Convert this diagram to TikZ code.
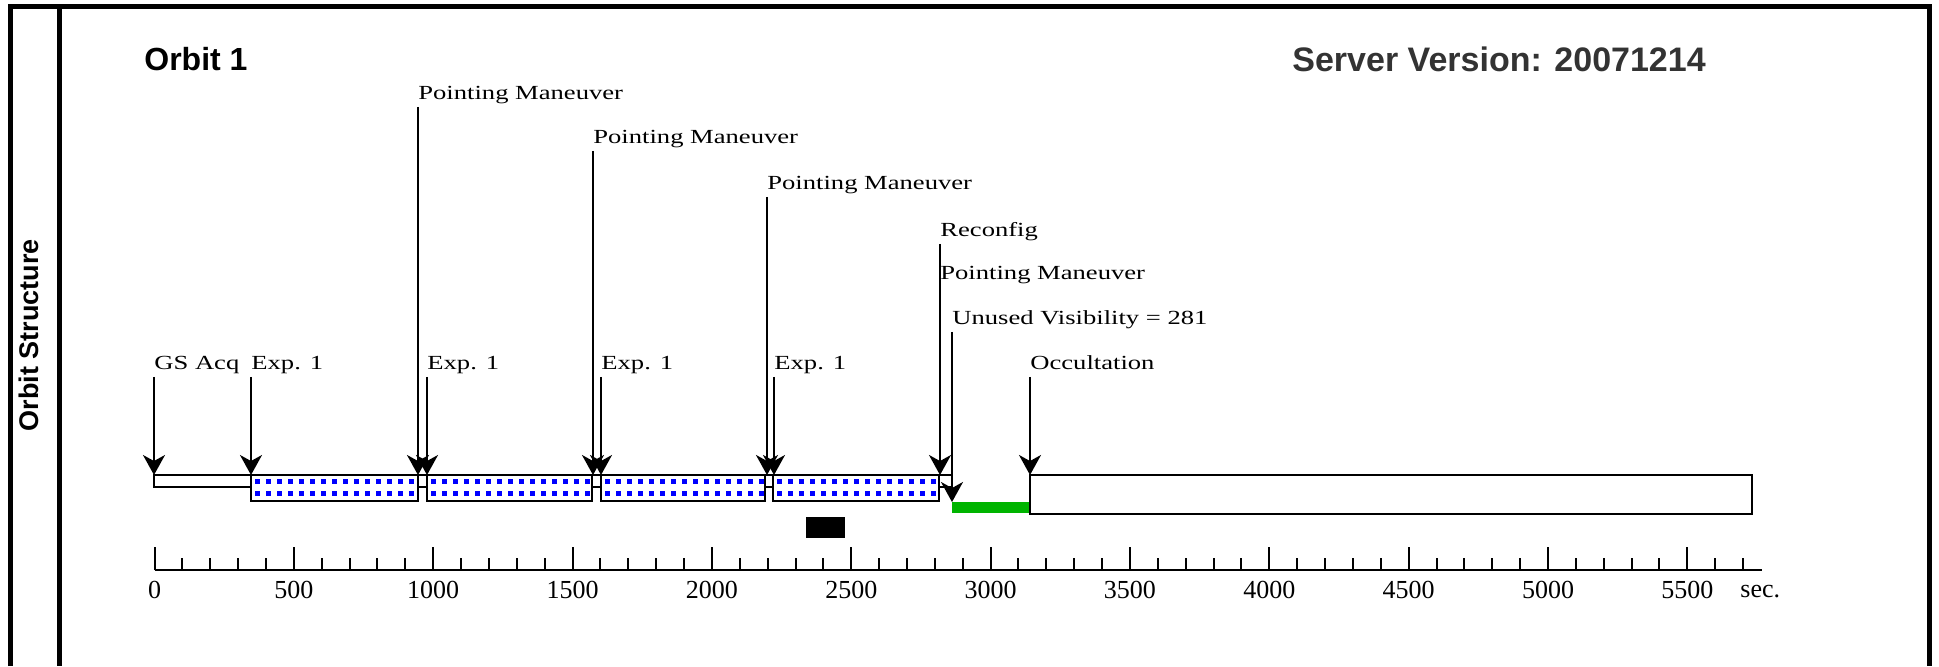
\documentclass[tikz,border=0pt]{standalone}
\usepackage{fontspec}
\setmainfont{Liberation Serif}
\newfontfamily\evfont[FakeStretch=1.33]{Liberation Serif}
\newfontfamily\headfont{Liberation Sans}
\usetikzlibrary{arrows.meta}
\definecolor{dotblue}{RGB}{0,0,255}
\definecolor{visgreen}{RGB}{0,180,0}
\definecolor{servergray}{RGB}{51,51,51}

\begin{document}
\begin{tikzpicture}[x=0.5pt,y=-0.5pt,
  frame/.style={line width=2.5pt},
  bar/.style={draw,line width=1pt,fill=white},
  evlabel/.style={font=\evfont\fontsize{10}{12}\selectfont,anchor=west,inner xsep=0pt,inner ysep=1pt,text height=7pt,text depth=2.5pt},
  evarrow/.style={line width=1pt,-{Stealth[length=10pt,width=11pt,inset=3pt]}},
  ticklabel/.style={font=\fontsize{13}{15}\selectfont,inner sep=0pt}]
\useasboundingbox (0,0) rectangle (1939,666);

% Frame
\draw[frame] (10,666) -- (10,6) -- (1929,6) -- (1929,666);
\draw[frame] (59,6) -- (59,666);
\node[rotate=90,font=\headfont\bfseries\fontsize{13.5}{16}\selectfont] (structure) at (29,335) {Orbit Structure};

% Headings
\node[anchor=west,inner sep=0pt,font=\headfont\bfseries\fontsize{16}{19}\selectfont] (orbit) at (144,59) {Orbit 1};
\node[anchor=west,inner sep=0pt,text=servergray,font=\headfont\bfseries\fontsize{17}{20}\selectfont] (server) at (1292,59) {Server Version: 20071214};

% Orbit segments
\draw[bar] (154,475) rectangle (251,487);
\draw[bar] (418,475) rectangle (427,487);
\draw[bar] (592,475) rectangle (601,487);
\draw[bar] (765,475) rectangle (773,487);
\draw[bar] (939,475) rectangle (952,487);
\foreach \a/\b in {251/418,427/592,601/765,773/939} {
  \draw[bar] (\a,475) rectangle (\b,501);
  \foreach \k in {0,...,14} {
    \fill[dotblue] ({\a+4+11*\k},479) rectangle ++(5,5);
    \fill[dotblue] ({\a+4+11*\k},491) rectangle ++(5,5);
  }
}
\fill[visgreen] (952,502) rectangle (1030,513);
\draw[bar] (1030,475) rectangle (1752,514);
\fill (806,517) rectangle (845,538);

% Events
\foreach \n/\x/\y/\e/\t in {pma/418/95/475/Pointing Maneuver,
    pmb/593/139/475/Pointing Maneuver,
    pmc/767/185/475/Pointing Maneuver,
    reconfig/940/232/475/Reconfig,
    unused/952/320/502/Unused Visibility = 281,
    gsacq/154/365/475/GS Acq,
    expa/251/365/475/Exp. 1,
    expb/427/365/475/Exp. 1,
    expc/601/365/475/Exp. 1,
    expd/774/365/475/Exp. 1,
    occult/1030/365/475/Occultation} {
  \node[evlabel] (\n) at (\x,\y) {\t};
  \coordinate (\n-end) at (\x,\e);
  \draw[evarrow] (\n.south west) -- (\n-end);
}
\node[evlabel] (pmd) at (940,275) {Pointing Maneuver};

% Time axis
\draw[line width=1pt] (154.5,570) -- (1762,570);
\foreach \i in {0,...,57}
  \draw[line width=1pt] ({154.5+27.87*\i},570) -- ++(0,-12);
\foreach \i [evaluate=\i as \v using int(500*\i)] in {0,...,11} {
  \draw[line width=1pt] ({154.5+139.35*\i},570) -- ++(0,-23);
  \node[ticklabel] (tick\i) at ({154.5+139.35*\i},590) {\v};
}
\node[ticklabel,anchor=west] (unit) at (1740,592) {sec.};
\end{tikzpicture}
\end{document}
